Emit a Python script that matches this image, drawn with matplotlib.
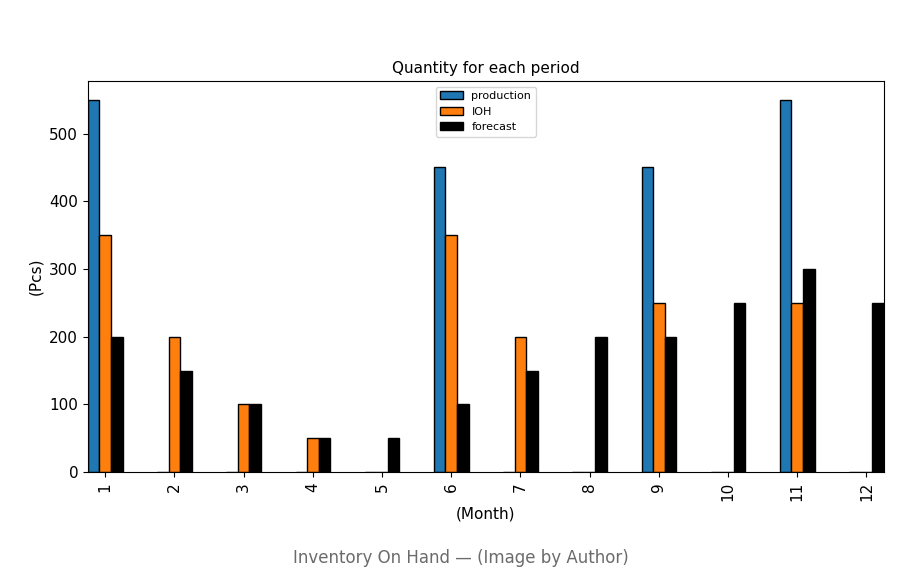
import matplotlib
matplotlib.use('Agg')
import matplotlib.pyplot as plt
import numpy as np

months = [1, 2, 3, 4, 5, 6, 7, 8, 9, 10, 11, 12]
production = [550, 0, 0, 0, 0, 450, 0, 0, 450, 0, 550, 0]
ioh = [350, 200, 100, 50, 0, 350, 200, 0, 250, 0, 250, 0]
forecast = [200, 150, 100, 50, 50, 100, 150, 200, 200, 250, 300, 250]

fig = plt.figure(figsize=(9.21, 5.88), dpi=100)
ax = fig.add_axes([0.0955, 0.197, 0.864, 0.665])

x = np.arange(len(months))
w = 0.5 / 3
series = [(production, 'production', '#1f77b4'),
          (ioh, 'IOH', '#ff7f0e'),
          (forecast, 'forecast', 'black')]
for i, (vals, name, col) in enumerate(series):
    ax.bar(x + (i - 1) * w, vals, w, color=col, edgecolor='black', label=name)

ax.set_xlim(-0.25, len(months) - 0.75)
ax.set_xticks(x)
ax.set_xticklabels(months, rotation=90, fontsize=11)
ax.tick_params(axis='y', labelsize=11)
ax.set_title('Quantity for each period', fontsize=11)
ax.set_xlabel('(Month)', fontsize=11)
ax.set_ylabel('(Pcs)', fontsize=11)
ax.legend(loc='upper center', fontsize=8)

fig.text(0.5, 0.042, 'Inventory On Hand \u2014 (Image by Author)', ha='center',
         fontsize=12, color='#6b6b6b')

fig.savefig('out.png', dpi=100)
